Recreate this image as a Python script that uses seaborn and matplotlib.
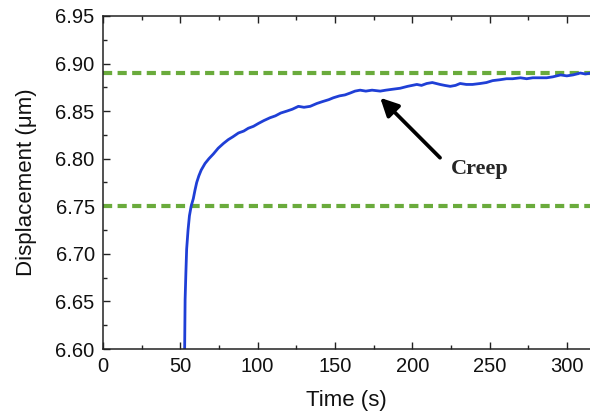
import matplotlib
matplotlib.use("Agg")
import matplotlib.pyplot as plt
import seaborn as sns
import pandas as pd

time_s = [52.4, 52.8, 53.1, 53.6, 54.1, 55.0, 55.9, 57.0, 58.4, 59.5, 60.6, 62.0, 63.5,
          66.0, 68.5, 71.4, 74.5, 77.9, 81.0, 84.0, 87.6, 91.0, 94.0, 97.3, 100.5,
          104.0, 108.0, 111.5, 115.0, 118.9, 122.5, 126.4, 130.0, 134.0, 138.3, 142.0,
          146.0, 149.0, 153.0, 156.5, 159.9, 163.0, 166.3, 170.0, 174.0, 179.3, 183.0,
          187.5, 192.2, 197.0, 203.0, 206.0, 209.4, 213.0, 218.0, 221.0, 224.6, 228.0,
          231.0, 235.0, 239.0, 244.0, 248.0, 252.0, 257.0, 261.0, 265.0, 270.0, 274.0,
          278.0, 283.0, 287.0, 291.0, 296.0, 300.0, 304.0, 308.7, 312.0, 316.0]
displacement_um = [6.55, 6.60, 6.652, 6.68, 6.705, 6.725, 6.740, 6.750, 6.758, 6.767, 6.775,
                   6.782, 6.788, 6.795, 6.800, 6.805, 6.811, 6.816, 6.820, 6.823, 6.827,
                   6.829, 6.832, 6.834, 6.837, 6.840, 6.843, 6.845, 6.848, 6.850, 6.852,
                   6.855, 6.854, 6.855, 6.858, 6.860, 6.862, 6.864, 6.866, 6.867, 6.869,
                   6.871, 6.872, 6.871, 6.872, 6.871, 6.872, 6.873, 6.874, 6.876, 6.878,
                   6.877, 6.879, 6.880, 6.878, 6.877, 6.876, 6.877, 6.879, 6.878, 6.878,
                   6.879, 6.880, 6.882, 6.883, 6.884, 6.884, 6.885, 6.884, 6.885, 6.885,
                   6.885, 6.886, 6.888, 6.887, 6.888, 6.890, 6.889, 6.890]
threshold_levels = [6.89, 6.75]
x_ticks = [0, 50, 100, 150, 200, 250, 300]
y_ticks = [6.60, 6.65, 6.70, 6.75, 6.80, 6.85, 6.90, 6.95]
annotation_text = "Creep"

df = pd.DataFrame({"Time (s)": time_s, "Displacement": displacement_um})

sns.set_theme(style="ticks")
plt.rcParams["font.family"] = ["Liberation Sans", "DejaVu Sans"]

fig = plt.figure(figsize=(5.9, 4.19), dpi=100)
ax = fig.add_axes([0.1746, 0.167, 1.0 - 0.1746, 0.962 - 0.167])

for lvl in threshold_levels:
    ax.axhline(lvl, color="#6aab3c", lw=3.0, linestyle=(0, (2.2, 1.3)), zorder=1)

sns.lineplot(data=df, x="Time (s)", y="Displacement", ax=ax, color="#1f3fd6",
             lw=2.0, sort=False, estimator=None, zorder=2)

ax.set_xlim(0, 315)
ax.set_ylim(6.60, 6.95)
ax.set_xticks(x_ticks)
ax.set_yticks(y_ticks)
ax.set_yticklabels([f"{v:.2f}" for v in y_ticks])
ax.xaxis.set_minor_locator(matplotlib.ticker.MultipleLocator(25))
ax.yaxis.set_minor_locator(matplotlib.ticker.MultipleLocator(0.025))
ax.tick_params(which="both", direction="in", top=True, right=False,
               colors="#222222", labelcolor="#111111")
ax.tick_params(which="major", length=5, width=1, labelsize=14.5)
ax.tick_params(axis="y", which="major", pad=6)
ax.tick_params(axis="x", which="major", pad=6)
ax.tick_params(which="minor", length=3, width=1)
for s in ["left", "bottom", "top"]:
    ax.spines[s].set_visible(True)
    ax.spines[s].set_color("#222222")
    ax.spines[s].set_linewidth(1.1)
ax.spines["right"].set_visible(False)

ax.set_xlabel("Time (s)", fontsize=16, labelpad=10, color="#111111")
ax.set_ylabel("Displacement (\u03bcm)", fontsize=16, labelpad=13, color="#111111")

ax.annotate("", xy=(179.3, 6.864), xytext=(218, 6.801),
            arrowprops=dict(arrowstyle="-|>,head_length=0.9,head_width=0.45",
                            color="black", lw=2.7, shrinkA=0, shrinkB=0))
ax.text(244, 6.789, annotation_text, fontsize=16, fontweight="bold",
        family=["Liberation Serif", "DejaVu Serif"], ha="center", va="center")

fig.savefig("out.png", dpi=100)
